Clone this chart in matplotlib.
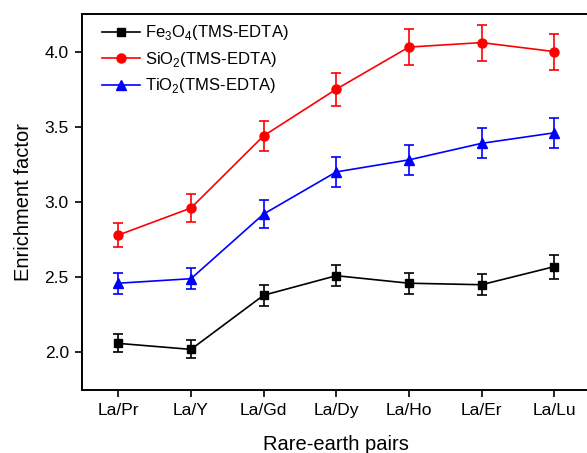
import matplotlib
matplotlib.use("Agg")
import matplotlib.pyplot as plt
from matplotlib.lines import Line2D
import numpy as np

plt.rcParams['font.family'] = ['Liberation Sans', 'DejaVu Sans']
plt.rcParams['mathtext.fontset'] = 'custom'
plt.rcParams['mathtext.rm'] = 'Liberation Sans'

pares = ["La/Pr", "La/Y", "La/Gd", "La/Dy", "La/Ho", "La/Er", "La/Lu"]

fe3o4 = [2.06, 2.02, 2.38, 2.51, 2.46, 2.45, 2.57]
fe3o4_err = [0.06, 0.06, 0.07, 0.07, 0.07, 0.07, 0.08]

sio2 = [2.78, 2.96, 3.44, 3.75, 4.03, 4.06, 4.00]
sio2_err = [0.08, 0.09, 0.10, 0.11, 0.12, 0.12, 0.12]

tio2 = [2.46, 2.49, 2.92, 3.20, 3.28, 3.39, 3.46]
tio2_err = [0.07, 0.07, 0.09, 0.10, 0.10, 0.10, 0.10]

x = np.arange(len(pares))

fig = plt.figure(figsize=(5.87, 4.53), dpi=100)
# el eje derecho queda justo fuera de la imagen, como en la original
ax = fig.add_axes([82 / 587, 63 / 453, 508.5 / 587, 376 / 453])

series = [
    (fe3o4, fe3o4_err, "black", "s", 6, r"Fe$_\mathrm{3}$O$_\mathrm{4}$(TMS-EDTA)"),
    (sio2, sio2_err, "red", "o", 6.5, r"SiO$_\mathrm{2}$(TMS-EDTA)"),
    (tio2, tio2_err, "blue", "^", 7, r"TiO$_\mathrm{2}$(TMS-EDTA)"),
]
handles = []
for vals, errs, color, marker, ms, label in series:
    ax.errorbar(x, vals, yerr=errs, color=color, marker=marker, markersize=ms,
                linewidth=1.2, elinewidth=1.2, capsize=3.5, capthick=1.2)
    handles.append(Line2D([], [], color=color, marker=marker, markersize=ms,
                          linewidth=1.2, label=label))

ax.set_xlim(-0.5, 6.5)
ax.set_ylim(1.75, 4.25)
ax.set_xticks(x)
ax.set_xticklabels(pares)
ax.set_yticks([2.0, 2.5, 3.0, 3.5, 4.0])
ax.tick_params(direction="out", length=5, width=1.2, labelsize=12.5, pad=4.5)
for s in ax.spines.values():
    s.set_linewidth(1.4)

ax.set_xlabel("Rare-earth pairs", fontsize=14.5, labelpad=12)
ax.set_ylabel("Enrichment factor", fontsize=14.5, labelpad=8)

ax.legend(handles=handles, loc="upper left", frameon=False, fontsize=12,
          handlelength=2.3, handletextpad=0.3, labelspacing=0.45,
          borderaxespad=0, borderpad=0, bbox_to_anchor=(0.039, 0.975))

plt.savefig("out.png", dpi=100)
